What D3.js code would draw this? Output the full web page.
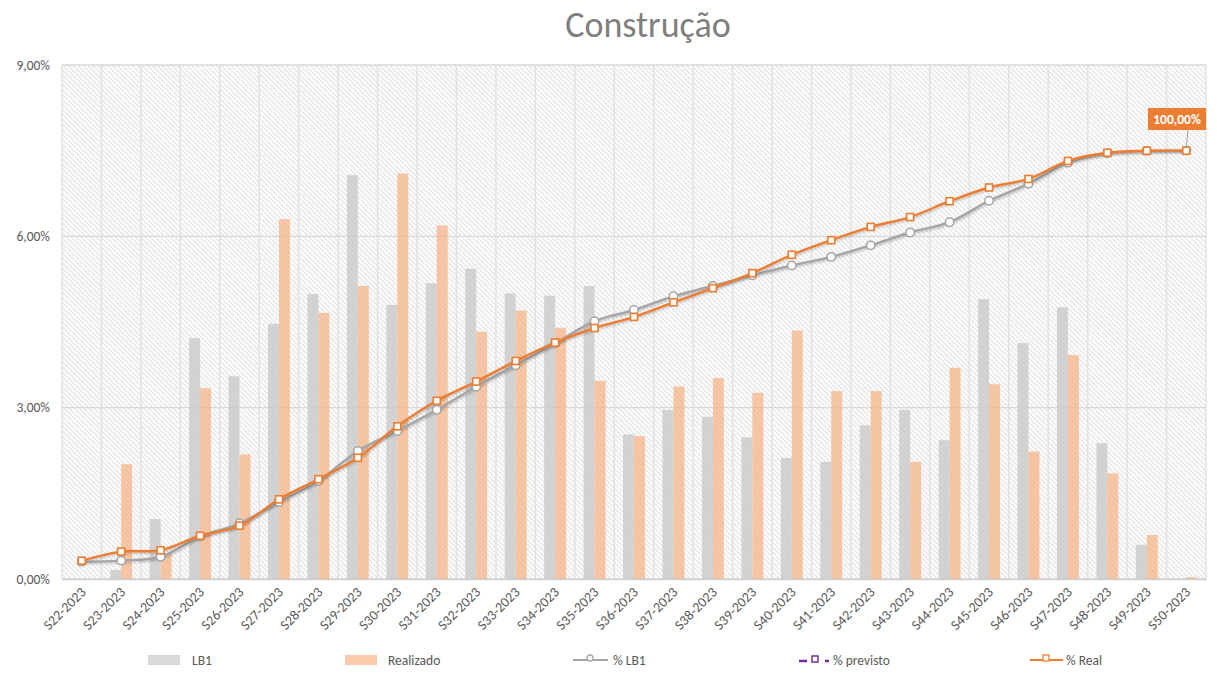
<!DOCTYPE html>
<html lang="pt-BR">
<head>
<meta charset="utf-8">
<title>Construção</title>
<script src="https://cdn.jsdelivr.net/npm/d3@7"></script>
<style>
  html, body { margin: 0; padding: 0; background: #ffffff; }
  svg { display: block; font-family: Carlito, "Liberation Sans Narrow", "Liberation Sans", Arial, sans-serif; }
</style>
</head>
<body>
<svg id="chart" width="1217" height="675"></svg>
<script>
// Weekly categories
const categories = [
  "S22-2023","S23-2023","S24-2023","S25-2023","S26-2023","S27-2023","S28-2023",
  "S29-2023","S30-2023","S31-2023","S32-2023","S33-2023","S34-2023","S35-2023",
  "S36-2023","S37-2023","S38-2023","S39-2023","S40-2023","S41-2023","S42-2023",
  "S43-2023","S44-2023","S45-2023","S46-2023","S47-2023","S48-2023","S49-2023","S50-2023"
];

// Weekly progress (primary axis, fraction)
const lb1 = [
  0.0000, 0.0016, 0.0105, 0.0422, 0.0355, 0.0447, 0.0499, 0.0707, 0.0480, 0.0518,
  0.0543, 0.0500, 0.0496, 0.0513, 0.0253, 0.0296, 0.0284, 0.0248, 0.0212, 0.0205,
  0.0269, 0.0296, 0.0243, 0.0490, 0.0413, 0.0476, 0.0238, 0.0060, 0.0000
];
const realizado = [
  0.0000, 0.0201, 0.0045, 0.0334, 0.0218, 0.0630, 0.0466, 0.0513, 0.0710, 0.0619,
  0.0433, 0.0470, 0.0440, 0.0347, 0.0250, 0.0337, 0.0352, 0.0326, 0.0435, 0.0329,
  0.0329, 0.0205, 0.0370, 0.0341, 0.0223, 0.0392, 0.0185, 0.0077, 0.0003
];

// Cumulative progress (secondary axis, fraction)
const pctLB1 = [
  0.040, 0.043, 0.052, 0.099, 0.130, 0.180, 0.229, 0.299, 0.3455, 0.395,
  0.449, 0.499, 0.550, 0.602, 0.628, 0.660, 0.684, 0.709, 0.732, 0.752,
  0.779, 0.809, 0.833, 0.883, 0.923, 0.972, 0.994, 0.9995, 1.000
];
const pctReal = [
  0.0427, 0.064, 0.067, 0.101, 0.1245, 0.186, 0.233, 0.283, 0.3565, 0.416,
  0.461, 0.509, 0.552, 0.586, 0.612, 0.646, 0.679, 0.714, 0.757, 0.791,
  0.822, 0.845, 0.882, 0.914, 0.934, 0.976, 0.995, 0.9997, 1.000
];
const pctPrevisto = [];

const yTicks = [0, 0.03, 0.06, 0.09];
const titleText = "Construção";
const legendItems = ["LB1", "Realizado", "% LB1", "% previsto", "% Real"];

const colors = {
  lb1: "#c9c9c9",
  real: "#f4b183",
  lineLB1: "#a5a5a5",
  lineReal: "#ed7d31",
  previsto: "#7030a0",
  text: "#595959",
  grid: "#d9d9d9"
};

const FONT = 'Carlito, "Liberation Sans Narrow", "Liberation Sans", Arial, sans-serif';
const plot = { left: 62, right: 1206, top: 65, bottom: 579 };

const ptBR = d3.formatLocale({ decimal: ",", thousands: ".", grouping: [3], currency: ["R$", ""] });
const pct = ptBR.format(".2%");

const svg = d3.select("#chart");
const defs = svg.append("defs");

// Diagonal hatch fill for the plot area (lines running top-left to bottom-right)
const hp = 3.5;
const hatch = defs.append("pattern")
  .attr("id", "hatch")
  .attr("patternUnits", "userSpaceOnUse")
  .attr("width", hp).attr("height", hp)
  .attr("patternTransform", "rotate(-45)");
hatch.append("rect").attr("width", hp).attr("height", hp).attr("fill", "#ffffff");
hatch.append("line")
  .attr("x1", hp / 2).attr("y1", 0).attr("x2", hp / 2).attr("y2", hp)
  .attr("stroke", "#dcdcdc").attr("stroke-width", 1.1);

const shadow = defs.append("filter").attr("id", "shadow")
  .attr("x", "-5%").attr("y", "-5%").attr("width", "110%").attr("height", "120%");
shadow.append("feDropShadow")
  .attr("dx", 0.8).attr("dy", 1.2).attr("stdDeviation", 0.8)
  .attr("flood-color", "#000").attr("flood-opacity", 0.25);

// Scales
const x = d3.scaleBand().domain(categories).range([plot.left, plot.right]).padding(0);
const xSub = d3.scaleBand().domain(["lb1", "real"]).range([0, x.bandwidth()]).paddingInner(0).paddingOuter(0.8);
const y = d3.scaleLinear().domain([0, 0.09]).range([plot.bottom, plot.top]);
const y2 = d3.scaleLinear().domain([0, 1.2]).range([plot.bottom, plot.top]);

// Plot background
svg.append("rect")
  .attr("x", plot.left).attr("y", plot.top)
  .attr("width", plot.right - plot.left).attr("height", plot.bottom - plot.top)
  .attr("fill", "url(#hatch)");

// Vertical gridlines at category boundaries
const vLines = categories.map(c => x(c)).concat([plot.right]);
svg.append("g").selectAll("line").data(vLines).join("line")
  .attr("x1", d => d).attr("x2", d => d)
  .attr("y1", plot.top).attr("y2", plot.bottom)
  .attr("stroke", "#e2e2e2").attr("stroke-width", 1.5);

// Horizontal gridlines
svg.append("g").selectAll("line").data(yTicks).join("line")
  .attr("x1", plot.left).attr("x2", plot.right)
  .attr("y1", d => y(d)).attr("y2", d => y(d))
  .attr("stroke", colors.grid).attr("stroke-width", 1.3);

// Y axis labels
const yAxis = svg.append("g")
  .attr("transform", `translate(${plot.left},0)`)
  .call(d3.axisLeft(y).tickValues(yTicks).tickFormat(pct).tickSize(0).tickPadding(12));
yAxis.select(".domain").remove();
yAxis.selectAll("text")
  .attr("fill", colors.text).attr("font-size", 13.5)
  .style("font-family", FONT);

// Bars
const barData = categories.map((c, i) => ({ c, lb1: lb1[i], real: realizado[i] }));
const groups = svg.append("g").selectAll("g").data(barData).join("g")
  .attr("transform", d => `translate(${x(d.c)},0)`);
groups.append("rect")
  .attr("x", xSub("lb1")).attr("width", xSub.bandwidth())
  .attr("y", d => y(d.lb1)).attr("height", d => y(0) - y(d.lb1))
  .attr("fill", colors.lb1).attr("fill-opacity", 0.8);
groups.append("rect")
  .attr("x", xSub("real")).attr("width", xSub.bandwidth())
  .attr("y", d => y(d.real)).attr("height", d => y(0) - y(d.real))
  .attr("fill", colors.real).attr("fill-opacity", 0.72);

// Category axis
const xAxis = svg.append("g")
  .attr("transform", `translate(0,${plot.bottom})`)
  .call(d3.axisBottom(x).tickSize(0).tickPadding(0));
xAxis.select(".domain").attr("stroke", "#d0d0d0").attr("stroke-width", 1.3);
xAxis.selectAll("text")
  .attr("fill", colors.text).attr("font-size", 14)
  .style("font-family", FONT)
  .attr("text-anchor", "end")
  .attr("dy", null)
  .attr("transform", "translate(5,14) rotate(-45)");

// Cumulative lines (secondary scale)
const cx = c => x(c) + x.bandwidth() / 2;
const lineGen = vals => d3.line()
  .x((d, i) => cx(categories[i]))
  .y(d => y2(d))
  .curve(d3.curveCatmullRom.alpha(0.5))(vals);

svg.append("path")
  .attr("d", lineGen(pctLB1))
  .attr("fill", "none").attr("stroke", colors.lineLB1).attr("stroke-width", 2.4)
  .attr("filter", "url(#shadow)");
svg.append("g").selectAll("circle").data(pctLB1).join("circle")
  .attr("cx", (d, i) => cx(categories[i])).attr("cy", d => y2(d)).attr("r", 4.2)
  .attr("fill", "#ffffff").attr("stroke", colors.lineLB1).attr("stroke-width", 1.5);

svg.append("path")
  .attr("d", lineGen(pctReal))
  .attr("fill", "none").attr("stroke", colors.lineReal).attr("stroke-width", 2.4)
  .attr("filter", "url(#shadow)");
svg.append("g").selectAll("rect").data(pctReal).join("rect")
  .attr("x", (d, i) => cx(categories[i]) - 3.5).attr("y", d => y2(d) - 3.5)
  .attr("width", 7).attr("height", 7)
  .attr("fill", "#ffffff").attr("stroke", colors.lineReal).attr("stroke-width", 1.6);

// Data label on the final cumulative point
const lastI = pctReal.length - 1;
const lastX = cx(categories[lastI]), lastY = y2(pctReal[lastI]);
const labelBox = { x: 1148, y: 108, w: 58, h: 22 };
svg.append("line")
  .attr("x1", labelBox.x + labelBox.w - 18).attr("y1", labelBox.y + labelBox.h)
  .attr("x2", lastX).attr("y2", lastY - 3)
  .attr("stroke", "#a6a6a6").attr("stroke-width", 1);
svg.append("rect")
  .attr("x", labelBox.x).attr("y", labelBox.y).attr("width", labelBox.w).attr("height", labelBox.h)
  .attr("fill", colors.lineReal);
svg.append("text")
  .attr("x", labelBox.x + labelBox.w / 2).attr("y", labelBox.y + labelBox.h / 2 + 5)
  .attr("text-anchor", "middle").attr("fill", "#ffffff")
  .attr("font-size", 13.5).attr("font-weight", "bold")
  .text(pct(pctReal[lastI]));

// Title
svg.append("text")
  .attr("x", 648).attr("y", 37)
  .attr("text-anchor", "middle")
  .attr("fill", "#7f7f7f").attr("font-size", 36)
  .text(titleText);

// Legend
const legY = 660;
const leg = svg.append("g").attr("font-size", 13.5).attr("fill", colors.text);
// LB1
leg.append("rect").attr("x", 148).attr("y", legY - 5).attr("width", 32).attr("height", 10).attr("fill", "#d9d9d9");
leg.append("text").attr("x", 192).attr("y", legY + 4.5).text(legendItems[0]);
// Realizado
leg.append("rect").attr("x", 345).attr("y", legY - 5).attr("width", 32).attr("height", 10).attr("fill", "#f8cbad");
leg.append("text").attr("x", 388).attr("y", legY + 4.5).text(legendItems[1]);
// % LB1
leg.append("line").attr("x1", 573).attr("x2", 608).attr("y1", legY).attr("y2", legY)
  .attr("stroke", colors.lineLB1).attr("stroke-width", 2.2);
leg.append("circle").attr("cx", 590).attr("cy", legY - 2).attr("r", 3)
  .attr("fill", "#fff").attr("stroke", colors.lineLB1).attr("stroke-width", 1.3);
leg.append("text").attr("x", 613).attr("y", legY + 4.5).text(legendItems[2]);
// % previsto
leg.append("line").attr("x1", 799).attr("x2", 830).attr("y1", legY + 1).attr("y2", legY + 1)
  .attr("stroke", colors.previsto).attr("stroke-width", 2.4).attr("stroke-dasharray", "8,18,4,20");
leg.append("rect").attr("x", 812).attr("y", legY - 4).attr("width", 6).attr("height", 6)
  .attr("fill", "#fff").attr("stroke", colors.previsto).attr("stroke-width", 1.5);
leg.append("text").attr("x", 833).attr("y", legY + 4.5).text(legendItems[3]);
// % Real
leg.append("line").attr("x1", 1030).attr("x2", 1063).attr("y1", legY).attr("y2", legY)
  .attr("stroke", colors.lineReal).attr("stroke-width", 2.2);
leg.append("rect").attr("x", 1043).attr("y", legY - 5).attr("width", 6).attr("height", 6)
  .attr("fill", "#fff").attr("stroke", colors.lineReal).attr("stroke-width", 1.3);
leg.append("text").attr("x", 1066).attr("y", legY + 4.5).text(legendItems[4]);
</script>
</body>
</html>
